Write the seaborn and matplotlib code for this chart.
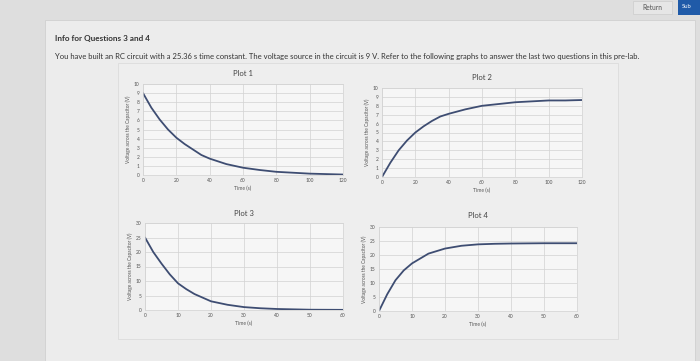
import matplotlib
matplotlib.use("Agg")
import matplotlib.pyplot as plt
import seaborn as sns
import pandas as pd
from matplotlib.patches import Rectangle

# ---- data ----
t1 = [0, 5, 10, 15, 20, 25, 30, 35, 40, 50, 60, 70, 80, 90, 100, 110, 120]
v1 = [9.0, 7.4, 6.1, 5.0, 4.1, 3.4, 2.8, 2.2, 1.8, 1.2, 0.8, 0.55, 0.35, 0.25, 0.15, 0.1, 0.05]
t2 = [0, 5, 10, 15, 20, 25, 30, 35, 40, 50, 60, 70, 80, 90, 100, 110, 120]
v2 = [0.0, 1.6, 3.0, 4.1, 5.0, 5.7, 6.3, 6.8, 7.1, 7.6, 8.0, 8.2, 8.4, 8.5, 8.6, 8.6, 8.65]
t3 = [0, 2.5, 5, 7.5, 10, 12.5, 15, 20, 25, 30, 35, 40, 50, 60]
v3 = [25.0, 20.0, 16.0, 12.3, 9.2, 7.2, 5.5, 3.0, 1.8, 1.0, 0.6, 0.35, 0.1, 0.05]
t4 = [0, 2.5, 5, 7.5, 10, 15, 20, 25, 30, 35, 40, 50, 60]
v4 = [0.0, 6.0, 11.0, 14.5, 17.0, 20.5, 22.3, 23.3, 23.8, 24.0, 24.1, 24.2, 24.2]

titles = ["Plot 1", "Plot 2", "Plot 3", "Plot 4"]
ylabel = "Voltage across the Capacitor (V)"
xlabel = "Time (s)"

sns.set_theme(style="whitegrid")
plt.rcParams['font.family'] = ['Lato', 'DejaVu Sans']

W, H = 700, 361
fig = plt.figure(figsize=(7, 3.61), dpi=100)
fig.patch.set_facecolor("#dedede")

# page panel
fig.add_artist(Rectangle((45 / W, 0), 650 / W, 1 - 20 / H, transform=fig.transFigure,
                         facecolor="#ececec", edgecolor="#d0d0d0", lw=0.6, zorder=0))
fig.add_artist(Rectangle((118 / W, 22 / H), 500 / W, 276 / H, transform=fig.transFigure,
                         facecolor="#eeeeee", edgecolor="#d8d8d8", lw=0.5, zorder=0))

# buttons
fig.add_artist(Rectangle((633 / W, 1 - 14 / H), 39 / W, 13 / H, transform=fig.transFigure,
                         facecolor="#e6e6e6", edgecolor="#cccccc", lw=0.5))
fig.text(652 / W, 1 - 7 / H, "Return", fontsize=4.8, color="#555555", ha="center", va="center")
fig.add_artist(Rectangle((678 / W, 1 - 15 / H), 22 / W, 15 / H, transform=fig.transFigure,
                         facecolor="#1f5aa8", edgecolor="none"))
fig.text(682 / W, 1 - 7 / H, "Sub", fontsize=4.2, color="white", ha="left", va="center")

fig.text(55 / W, 1 - 38 / H, "Info for Questions 3 and 4", fontsize=5.9, fontweight="bold",
         color="#333333", ha="left", va="center")
fig.text(55 / W, 1 - 57 / H,
         "You have built an RC circuit with a 25.36 s time constant. The voltage source in the circuit is 9 V. "
         "Refer to the following graphs to answer the last two questions in this pre-lab.",
         fontsize=5.5, color="#333333", ha="left", va="center")

# axes boxes in pixel coords: (left, top, right, bottom)
boxes = [(143, 84, 343, 175), (382, 88, 582, 177), (145, 223, 343, 310), (379, 227, 577, 311)]
datas = [(t1, v1, 120, 20, 10, 1), (t2, v2, 120, 20, 10, 1), (t3, v3, 60, 10, 30, 5), (t4, v4, 60, 10, 30, 5)]
title_y = [73, 78, 213, 216]

for (l, t, r, b), (tx, vy, xmax, xstep, ymax, ystep), ttl, ty in zip(boxes, datas, titles, title_y):
    ax = fig.add_axes([l / W, 1 - b / H, (r - l) / W, (b - t) / H])
    ax.set_facecolor("#f6f6f6")
    df = pd.DataFrame({"t": tx, "v": vy})
    sns.lineplot(data=df, x="t", y="v", ax=ax, color="#3e4d72", lw=1.3)
    ax.set_xlim(0, xmax)
    ax.set_ylim(0, ymax)
    ax.set_xticks(list(range(0, xmax + 1, xstep)))
    ax.set_yticks(list(range(0, ymax + 1, ystep)))
    ax.tick_params(labelsize=3.5, colors="#555555", pad=2.5, length=0)
    ax.grid(True, color="#d2d2d2", lw=0.5)
    for s in ax.spines.values():
        s.set_color("#d2d2d2")
        s.set_linewidth(0.5)
    ax.set_xlabel(xlabel, fontsize=3.6, color="#555555", labelpad=2)
    ax.set_ylabel(ylabel, fontsize=3.4, color="#555555", labelpad=2)
    cx = (l + r) / 2
    fig.text(cx / W, 1 - ty / H, ttl, fontsize=5.5, color="#444444", ha="center", va="center")

fig.savefig("out.png", dpi=100)
